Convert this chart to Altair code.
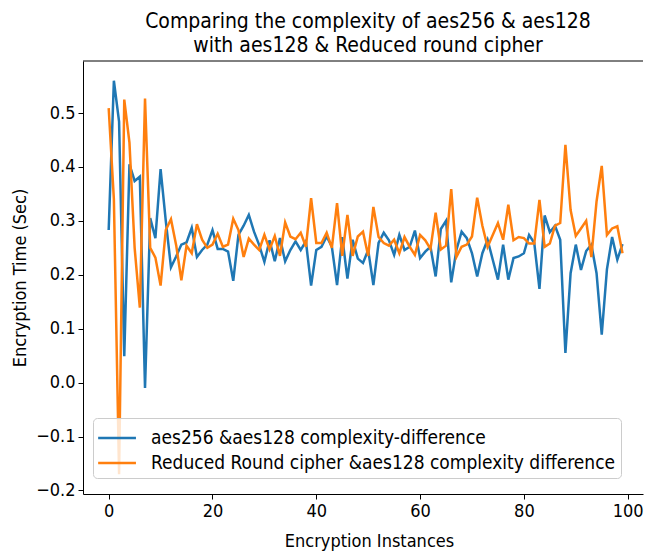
import altair as alt
import pandas as pd

instances = list(range(100))

aes256_diff = [
    0.283, 0.560, 0.484, 0.049, 0.405, 0.374, 0.382, -0.010, 0.305, 0.268,
    0.396, 0.300, 0.214, 0.234, 0.256, 0.260, 0.287, 0.233, 0.246, 0.256,
    0.283, 0.248, 0.248, 0.243, 0.189, 0.274, 0.291, 0.311, 0.280, 0.255,
    0.224, 0.264, 0.225, 0.268, 0.225, 0.246, 0.262, 0.246, 0.262, 0.180,
    0.246, 0.252, 0.271, 0.252, 0.181, 0.270, 0.193, 0.265, 0.230, 0.222,
    0.246, 0.181, 0.259, 0.278, 0.264, 0.237, 0.274, 0.246, 0.252, 0.282,
    0.231, 0.243, 0.252, 0.197, 0.285, 0.300, 0.186, 0.246, 0.280, 0.268,
    0.240, 0.197, 0.240, 0.265, 0.228, 0.191, 0.256, 0.191, 0.231, 0.234,
    0.240, 0.274, 0.259, 0.174, 0.310, 0.279, 0.291, 0.265, 0.055, 0.203,
    0.256, 0.209, 0.244, 0.256, 0.203, 0.089, 0.210, 0.270, 0.228, 0.257,
]

reduced_diff = [
    0.509, 0.340, -0.170, 0.525, 0.445, 0.250, 0.139, 0.527, 0.250, 0.232,
    0.180, 0.283, 0.303, 0.255, 0.190, 0.254, 0.240, 0.294, 0.265, 0.250,
    0.256, 0.276, 0.252, 0.256, 0.304, 0.283, 0.233, 0.267, 0.256, 0.246,
    0.274, 0.247, 0.272, 0.235, 0.297, 0.271, 0.266, 0.278, 0.252, 0.342,
    0.259, 0.259, 0.278, 0.250, 0.333, 0.235, 0.311, 0.235, 0.271, 0.280,
    0.235, 0.326, 0.270, 0.259, 0.254, 0.265, 0.240, 0.270, 0.252, 0.237,
    0.274, 0.264, 0.248, 0.315, 0.247, 0.254, 0.359, 0.233, 0.252, 0.256,
    0.271, 0.343, 0.291, 0.252, 0.274, 0.296, 0.265, 0.330, 0.264, 0.270,
    0.268, 0.258, 0.258, 0.339, 0.252, 0.258, 0.291, 0.296, 0.441, 0.320,
    0.272, 0.286, 0.300, 0.233, 0.336, 0.402, 0.274, 0.286, 0.290, 0.240,
]

series_names = [
    "aes256 &aes128 complexity-difference",
    "Reduced Round cipher &aes128 complexity difference",
]
series_colors = ["#1f77b4", "#ff7f0e"]

x_ticks = [0, 20, 40, 60, 80, 100]
y_ticks = [-0.2, -0.1, 0.0, 0.1, 0.2, 0.3, 0.4, 0.5]

title_lines = [
    "Comparing the complexity of aes256 & aes128",
    "with aes128 & Reduced round cipher",
]

FONT = "DejaVu Sans Condensed, DejaVu Sans"
W, H = 560, 433

df = pd.DataFrame({
    "instance": instances * 2,
    "value": aes256_diff + reduced_diff,
    "series": [series_names[0]] * len(instances) + [series_names[1]] * len(instances),
})

x_enc = alt.X(
    "instance:Q",
    scale=alt.Scale(domain=[-4.95, 102.95], nice=False, zero=False),
    axis=alt.Axis(
        values=x_ticks, format="d", title="Encryption Instances",
        titleX=286, titleY=47, titleBaseline="middle", titleAlign="center",
        grid=False,
    ),
)
y_enc = alt.Y(
    "value:Q",
    scale=alt.Scale(domain=[-0.2065, 0.5965], nice=False, zero=False),
    axis=alt.Axis(
        values=y_ticks, format=".1f", title="Encryption Time (Sec)",
        titleX=-63, titleY=H / 2, titleAngle=-90, titleBaseline="middle",
        titleAlign="center", grid=False,
    ),
)
color_enc = alt.Color(
    "series:N",
    scale=alt.Scale(domain=series_names, range=series_colors),
    legend=alt.Legend(
        title=None, orient="none", legendX=10, legendY=357,
        fillColor="rgba(255,255,255,0.8)", strokeColor="#cccccc",
        cornerRadius=4, padding=5, symbolType="M-1.1,0H1.7", symbolSize=729,
        symbolStrokeWidth=2.5, labelFontSize=19, labelFont=FONT,
        labelLimit=700, rowPadding=0, labelOffset=23, labelColor="black",
    ),
)

base = alt.Chart(df)
blue = base.transform_filter(alt.datum.series == series_names[0]).mark_line(
    strokeWidth=2.5).encode(x=x_enc, y=y_enc, color=color_enc)
orange = base.transform_filter(alt.datum.series == series_names[1]).mark_line(
    strokeWidth=2.5).encode(x=x_enc, y=y_enc, color=color_enc)

top_border = alt.Chart(pd.DataFrame({"k": [0]})).mark_rule(
    color="black", strokeWidth=1).encode(
    x=alt.value(0), x2=alt.value(W), y=alt.value(0))

chart = alt.layer(blue, orange, top_border).properties(
    width=W, height=H,
    title=alt.TitleParams(
        text=title_lines, fontSize=21, font=FONT, fontWeight="normal",
        anchor="middle", offset=5, lineHeight=24, color="black", dx=5,
    ),
    autosize=alt.AutoSizeParams(type="none"),
    padding={"left": 75, "top": 53, "right": 1, "bottom": 58},
).configure_view(stroke=None).configure_axis(
    domainColor="black", tickColor="black", labelColor="black",
    titleColor="black", labelFont=FONT, titleFont=FONT, labelFontSize=18,
    titleFontSize=18, titleFontWeight="normal", tickSize=5, labelPadding=3,
    domainWidth=1, tickWidth=1,
)

chart.save("out.html", embed_options={"renderer": "svg", "actions": False})
